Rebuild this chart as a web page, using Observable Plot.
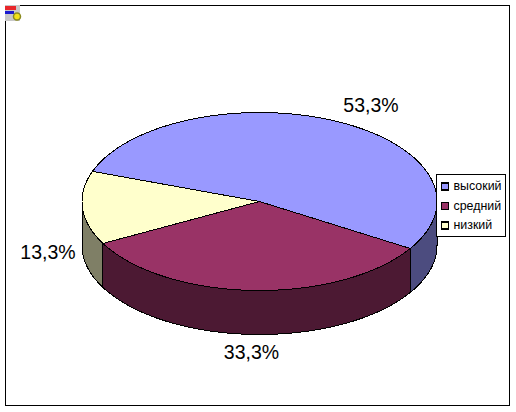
<!DOCTYPE html>
<html><head><meta charset="utf-8">
<script src="https://cdn.jsdelivr.net/npm/d3@7"></script>
<script src="https://cdn.jsdelivr.net/npm/@observablehq/plot@0.6"></script>
<style>
html,body{margin:0;padding:0;background:#fff;width:516px;height:412px;overflow:hidden}
svg{display:block;font-family:"Liberation Sans",Arial,sans-serif}
</style></head><body><div id="c"></div>
<script>
const categories = ["высокий", "средний", "низкий"];
const values = [53.3, 33.3, 13.3];
const labels = ["53,3%", "33,3%", "13,3%"];
const topColors = ["#9999FF", "#993366", "#FFFFCC"];
const sideColors = ["#4C4C7F", "#4C1933", "#7F7F66"];

const cx = 259, cy = 201, rx = 177.5, ry = 89, depth = 44, startDeg = 289.8;
const labelX = [370.5, 251, 47.5], labelY = [105, 352, 252];
const legendX = 444.5, legendTextX = 453, legendY = [186, 205.5, 225];

const total = d3.sum(values);
const rad = d => d * Math.PI / 180;
const pt = (deg, dy = 0) => ({x: cx + rx * Math.sin(rad(deg)), y: cy - ry * Math.cos(rad(deg)) + dy});
const arc = (a, b, dy = 0) => d3.range(0, 91).map(i => pt(a + (b - a) * i / 90, dy));

let acc = startDeg;
const slices = values.map((v, i) => {
  const a = acc, b = acc + v / total * 360;
  acc = b;
  return {i, a, b};
});

const topRows = slices.flatMap(s => [{x: cx, y: cy}, ...arc(s.a, s.b), {x: cx, y: cy}].map(p => ({...p, z: s.i})));
const sideRows = [];
slices.forEach(s => {
  for (const k of [0, 360]) {
    const a = Math.max(s.a, 90 + k), b = Math.min(s.b, 270 + k);
    if (a < b) [...arc(a, b), ...arc(b, a, depth), pt(a)].forEach(p => sideRows.push({...p, z: s.i}));
  }
});

const pieLine = (rows, colors) => Plot.line(rows, {
  x: "x", y: "y", z: "z",
  fill: d => colors[d.z], stroke: "#000", strokeWidth: 1, curve: "linear"
});

const chart = Plot.plot({
  width: 516, height: 412, margin: 0,
  x: {domain: [0, 516], range: [0, 516], axis: null},
  y: {domain: [0, 412], range: [0, 412], axis: null},
  marks: [
    Plot.rect([0], {x1: 5.5, x2: 509.5, y1: 5.5, y2: 405.5, fill: "#fff", stroke: "#000"}),
    // corner icon
    Plot.rect([0], {x1: 5, x2: 20, y1: 5, y2: 21, fill: "#C8C8C8"}),
    Plot.rect([0], {x1: 5, x2: 16, y1: 6, y2: 10, fill: "#E8262A"}),
    Plot.rect([0], {x1: 5, x2: 14, y1: 11, y2: 14, fill: "#1A1AD0"}),
    Plot.dot([0], {x: () => 16.5, y: () => 16, r: 3.5, fill: "#F2E21A", stroke: "#8A8A20"}),
    pieLine(sideRows, sideColors),
    pieLine(topRows, topColors),
    Plot.text(labels, {
      x: (d, i) => labelX[i], y: (d, i) => labelY[i], text: d => d,
      fontSize: 19.5, fill: "#000", fontFamily: "Liberation Sans, Arial, sans-serif"
    }),
    Plot.rect([0], {x1: 436.5, x2: 505.5, y1: 174.5, y2: 236.5, fill: "#fff", stroke: "#000"}),
    Plot.dot(categories, {
      x: () => legendX, y: (d, i) => legendY[i], symbol: "square", r: 3.8,
      fill: (d, i) => topColors[i], stroke: "#000"
    }),
    Plot.text(categories, {
      x: () => legendTextX, y: (d, i) => legendY[i], text: d => d, textAnchor: "start",
      fontSize: 12.4, fill: "#000", fontFamily: "Liberation Sans, Arial, sans-serif"
    })
  ]
});
chart.style.background = "#fff";
chart.querySelectorAll("path,rect").forEach(e => e.setAttribute("shape-rendering", "crispEdges"));
document.getElementById("c").append(chart);
</script></body></html>
